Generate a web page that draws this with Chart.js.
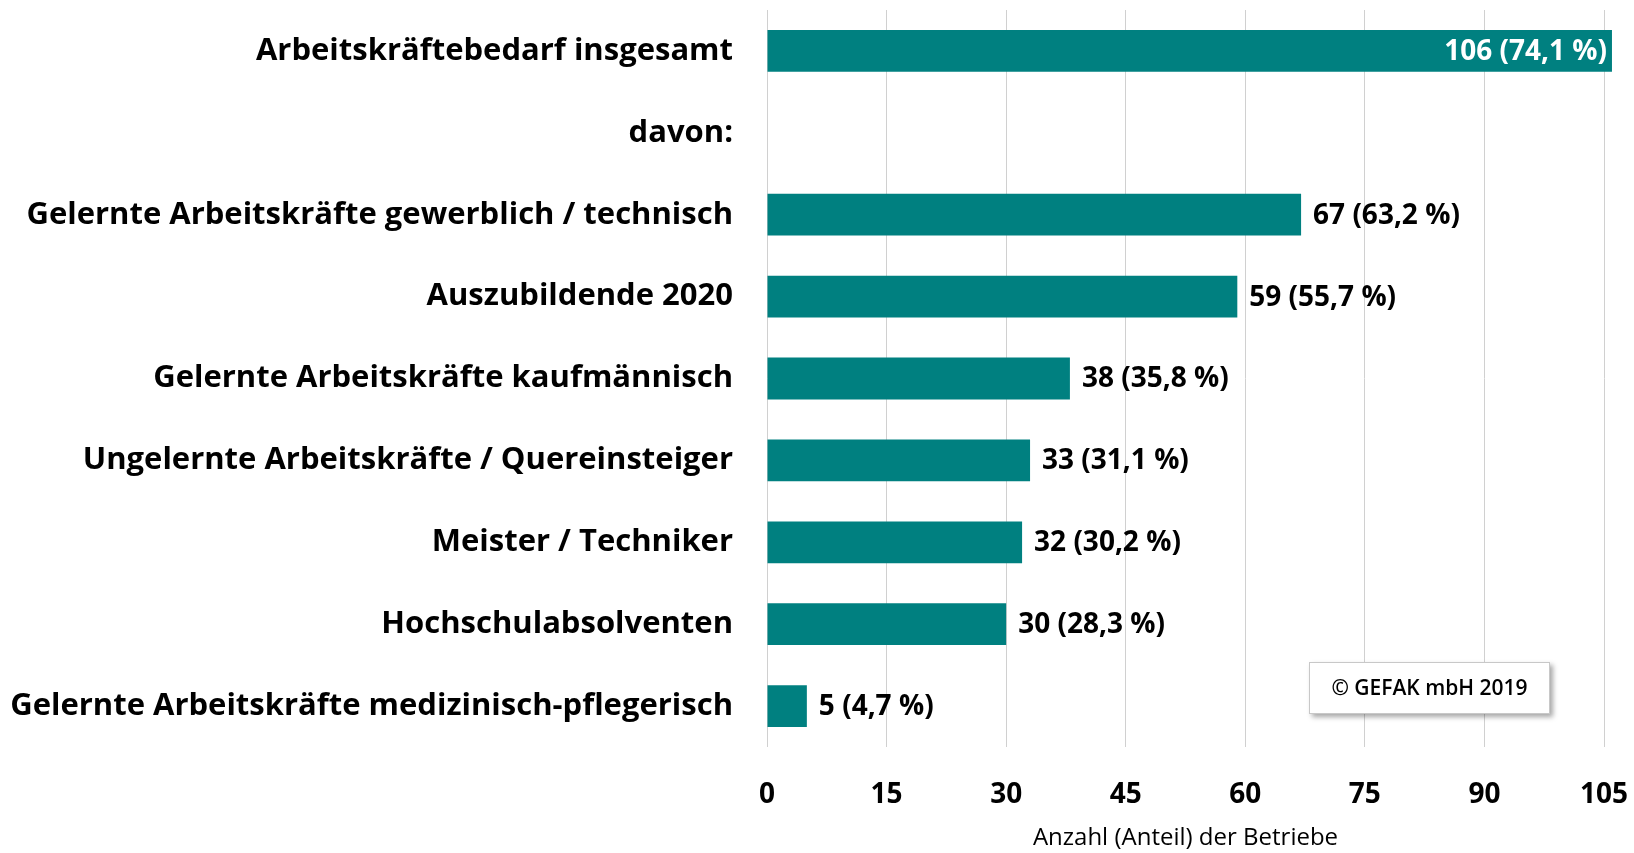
<!DOCTYPE html>
<html>
<head>
<meta charset="utf-8">
<script src="https://cdn.jsdelivr.net/npm/chart.js@4.4.1/dist/chart.umd.min.js"></script>
<style>
  html, body { margin: 0; padding: 0; background: #ffffff; }
  #wrap { position: relative; width: 1634px; height: 853px; }
</style>
</head>
<body>
<div id="wrap"><canvas id="c"></canvas></div>
<script>
// ---- data ----
const categories = [
  'Arbeitskräftebedarf insgesamt',
  'davon:',
  'Gelernte Arbeitskräfte gewerblich / technisch',
  'Auszubildende 2020',
  'Gelernte Arbeitskräfte kaufmännisch',
  'Ungelernte Arbeitskräfte / Quereinsteiger',
  'Meister / Techniker',
  'Hochschulabsolventen',
  'Gelernte Arbeitskräfte medizinisch-pflegerisch'
];
const counts = [106, null, 67, 59, 38, 33, 32, 30, 5];
const shares = ['74,1', null, '63,2', '55,7', '35,8', '31,1', '30,2', '28,3', '4,7'];
const xTickMin = 0;
const xTickMax = 105;
const xTickStep = 15;
const axisTitle = 'Anzahl (Anteil) der Betriebe';
const copyrightText = '© GEFAK mbH 2019';

const FONT = "'Open Sans', Lato, 'DejaVu Sans', sans-serif";
const TEAL = '#008080';

const valueLabels = {
  id: 'valueLabels',
  afterDatasetsDraw(chart) {
    const ctx = chart.ctx;
    const meta = chart.getDatasetMeta(0);
    const xScale = chart.scales.x;
    ctx.save();
    ctx.font = 'bold 28px ' + FONT;
    ctx.textBaseline = 'middle';
    meta.data.forEach((bar, i) => {
      const v = counts[i];
      if (v === null || v === undefined) return;
      const txt = v + ' (' + shares[i] + ' %)';
      if (v > xScale.max) {
        ctx.fillStyle = '#ffffff';
        ctx.textAlign = 'right';
        ctx.fillText(txt, bar.x - 5, bar.y + 1);
      } else {
        ctx.fillStyle = '#000000';
        ctx.textAlign = 'left';
        ctx.fillText(txt, bar.x + 12, bar.y + 1);
      }
    });
    ctx.restore();
  }
};

const copyrightBox = {
  id: 'copyrightBox',
  afterDraw(chart) {
    const ctx = chart.ctx;
    const ca = chart.chartArea;
    const w = 241, h = 52;
    const x = ca.right - 295, y = ca.bottom - 85;
    ctx.save();
    ctx.shadowColor = 'rgba(0,0,0,0.35)';
    ctx.shadowBlur = 5;
    ctx.shadowOffsetX = 3;
    ctx.shadowOffsetY = 3;
    ctx.fillStyle = '#ffffff';
    ctx.fillRect(x, y, w, h);
    ctx.shadowColor = 'transparent';
    ctx.strokeStyle = '#c8c8c8';
    ctx.lineWidth = 1;
    ctx.strokeRect(x + 0.5, y + 0.5, w - 1, h - 1);
    ctx.fillStyle = '#000000';
    ctx.font = '600 21px ' + FONT;
    ctx.textAlign = 'center';
    ctx.textBaseline = 'middle';
    ctx.fillText(copyrightText, x + w / 2, y + h / 2 + 1);
    ctx.restore();
  }
};

new Chart(document.getElementById('c'), {
  type: 'bar',
  data: {
    labels: categories,
    datasets: [{
      data: counts,
      backgroundColor: TEAL,
      borderWidth: 0,
      categoryPercentage: 1.0,
      barPercentage: 0.51,
      clip: false
    }]
  },
  options: {
    indexAxis: 'y',
    responsive: true,
    maintainAspectRatio: false,
    animation: false,
    layout: { padding: { top: 10, right: 30, left: 0, bottom: 0 } },
    plugins: {
      legend: { display: false },
      tooltip: { enabled: false }
    },
    scales: {
      x: {
        min: xTickMin,
        max: xTickMax,
        ticks: {
          stepSize: xTickStep,
          color: '#000000',
          font: { family: FONT, size: 28, weight: 'bold' },
          padding: 31
        },
        grid: { color: '#d0d0d0', lineWidth: 1, drawTicks: false },
        border: { display: false },
        title: {
          display: true,
          text: axisTitle,
          color: '#000000',
          font: { family: FONT, size: 24 },
          padding: { top: 0, bottom: 0 }
        },
        afterFit(scale) {
          scale.height = 106;
          scale.paddingLeft = 0;
          scale.paddingRight = 0;
        }
      },
      y: {
        ticks: {
          color: '#000000',
          font: { family: FONT, size: 31, weight: 'bold' },
          padding: 34,
          autoSkip: false
        },
        grid: { display: false, drawTicks: false },
        border: { display: false },
        afterFit(scale) {
          scale.width = 767;
          scale.paddingTop = 0;
          scale.paddingBottom = 0;
        }
      }
    }
  },
  plugins: [valueLabels, copyrightBox]
});
</script>
</body>
</html>
